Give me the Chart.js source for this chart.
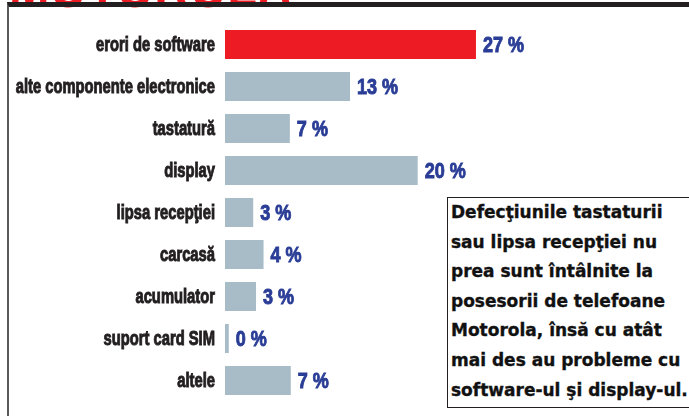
<!DOCTYPE html>
<html>
<head>
<meta charset="utf-8">
<script src="https://cdn.jsdelivr.net/npm/chart.js@4"></script>
<style>
  html, body { margin: 0; padding: 0; background: #fff; }
  body { width: 689px; height: 416px; position: relative; overflow: hidden; }
  #title {
    position: absolute; left: 9px; top: -47px;
    font: bold 58px "Liberation Sans", Arial, sans-serif;
    color: #ed1c24; margin: 0; white-space: nowrap;
    transform: scaleX(0.84); transform-origin: left top;
  }
  #frame {
    position: absolute; left: 7px; top: 2px; right: -10px; bottom: -10px;
    border-top: 5px solid #231f20; border-left: 2px solid #5a5a5a;
  }
  #chart { position: absolute; left: 0; top: 0; }
  #note {
    position: absolute; left: 447px; top: 197px; width: 260px; height: 211px;
    border: 1px solid #231f20; border-right: none; background: #fff;
    box-sizing: border-box; padding: 0 0 0 3px;
    font: bold 17px "DejaVu Sans", sans-serif;
    -webkit-text-stroke: 0.35px #111;
    line-height: 29.6px; color: #111; white-space: nowrap;
  }
</style>
</head>
<body>
<div id="title">MOTOROLA</div>
<div id="frame"></div>
<canvas id="chart" width="689" height="416"></canvas>
<div id="note">Defecţiunile tastaturii<br>sau lipsa recepţiei nu<br>prea sunt întâlnite la<br>posesorii de telefoane<br>Motorola, însă cu atât<br>mai des au probleme cu<br>software-ul şi display-ul.</div>
<script>
// defect categories, top to bottom
const categories = [
    'erori de software',
    'alte componente electronice',
    'tastatură',
    'display',
    'lipsa recepţiei',
    'carcasă',
    'acumulator',
    'suport card SIM',
    'altele'
];
// bar lengths (%)
const shares = [26.7, 13.3, 6.9, 20.5, 3.0, 4.1, 3.3, 0.4, 7.0];
// printed value labels
const shareLabels = ['27 %', '13 %', '7 %', '20 %', '3 %', '4 %', '3 %', '0 %', '7 %'];
const barColors = ['#ed1c24', '#a8bcc7', '#a8bcc7', '#a8bcc7', '#a8bcc7', '#a8bcc7', '#a8bcc7', '#a8bcc7', '#a8bcc7'];

// no narrow font installed, so squeeze a bold one horizontally
function condensedText(ctx, text, x, y, align, squeeze) {
    ctx.save();
    ctx.translate(x, y);
    ctx.scale(squeeze, 1);
    ctx.textAlign = align;
    ctx.fillText(text, 0, 0);
    ctx.strokeText(text, 0, 0);
    ctx.restore();
}

// category names on the left, placed on the y scale's ticks
const categoryLabels = {
    id: 'categoryLabels',
    afterDraw(chart) {
        const ctx = chart.ctx;
        const y = chart.scales.y;
        ctx.save();
        ctx.font = 'bold 20.5px "Liberation Sans", Arial, sans-serif';
        ctx.fillStyle = '#231f20';
        ctx.strokeStyle = '#231f20';
        ctx.lineWidth = 1;
        ctx.textBaseline = 'middle';
        categories.forEach((c, i) => {
            condensedText(ctx, c, y.right - 10, y.getPixelForTick(i) + 1, 'right', 0.72);
        });
        ctx.restore();
    }
};

// draws the blue "xx %" next to each bar
const valueLabels = {
    id: 'valueLabels',
    afterDatasetsDraw(chart) {
        const ctx = chart.ctx;
        const meta = chart.getDatasetMeta(0);
        ctx.save();
        ctx.font = 'bold 22px "Liberation Sans", Arial, sans-serif';
        ctx.fillStyle = '#2a3d96';
        ctx.strokeStyle = '#2a3d96';
        ctx.lineWidth = 0.9;
        ctx.textBaseline = 'middle';
        meta.data.forEach((bar, i) => {
            condensedText(ctx, shareLabels[i], bar.x + 7, bar.y + 1, 'left', 0.82);
        });
        ctx.restore();
    }
};

const ctx = document.getElementById('chart').getContext('2d');
new Chart(ctx, {
    type: 'bar',
    data: {
        labels: categories,
        datasets: [{
            data: shares,
            backgroundColor: barColors,
            borderWidth: 0,
            barPercentage: 0.69,
            categoryPercentage: 1
        }]
    },
    options: {
        indexAxis: 'y',
        responsive: false,
        animation: false,
        layout: { padding: { top: 23.5, bottom: 14.5, left: 0, right: 88 } },
        plugins: {
            legend: { display: false },
            tooltip: { enabled: false }
        },
        scales: {
            x: { display: false, min: 0, max: 40 },
            y: {
                afterFit: s => { s.width = 225; },
                grid: { display: false, drawTicks: false },
                border: { display: false },
                ticks: { display: false }
            }
        }
    },
    plugins: [categoryLabels, valueLabels]
});
</script>
</body>
</html>
